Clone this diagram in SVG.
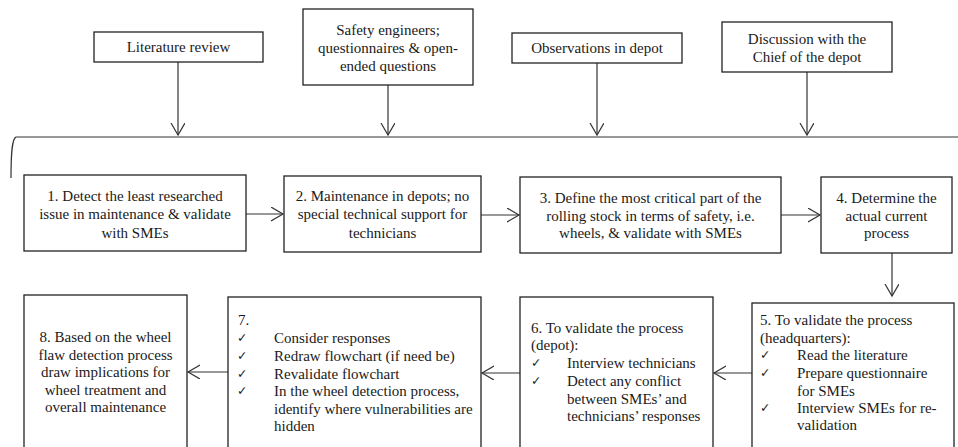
<svg xmlns="http://www.w3.org/2000/svg" width="958" height="447" viewBox="0 0 958 447">
<defs>
<marker id="arr" markerUnits="userSpaceOnUse" markerWidth="16" markerHeight="16" refX="12" refY="7" orient="auto">
<path d="M0,0 L12,7 L0,14" fill="none" stroke="#333" stroke-width="1.2"/>
</marker>
<style>
rect{fill:#fff;stroke:#222;stroke-width:1.3}
.c line,.c path{stroke:#333;stroke-width:1.2;fill:none}
.c line{marker-end:url(#arr)}
text{font-family:"Liberation Serif","Times New Roman",serif;font-size:15px;fill:#1a1a1a}
.m{text-anchor:middle}
.ck{font-family:"DejaVu Sans",sans-serif;font-size:12.5px}
</style>
</defs>
<rect x="0" y="0" width="958" height="447" style="fill:#fff;stroke:none"/>

<g class="c" id="connectors">
<path d="M11,178 C11,152 12,139 16,137 L958,137"/>
<line x1="178" y1="62" x2="178" y2="135"/>
<line x1="388" y1="85" x2="388" y2="135"/>
<line x1="597" y1="63" x2="597" y2="135"/>
<line x1="807" y1="72" x2="807" y2="135"/>
<line x1="246" y1="214" x2="283" y2="214"/>
<line x1="481" y1="215" x2="519" y2="215"/>
<line x1="781" y1="215" x2="820" y2="215"/>
<line x1="892" y1="253" x2="892" y2="296"/>
<line x1="752" y1="373" x2="714" y2="373"/>
<line x1="520" y1="373" x2="482" y2="373"/>
<line x1="228" y1="372" x2="188" y2="372"/>
</g>

<g id="lit">
<rect x="94" y="32" width="169" height="30"/>
<text class="m" x="178.5" y="52">Literature review</text>
</g>
<g id="safety">
<rect x="303" y="9" width="170" height="76"/>
<text class="m" x="388" y="35">Safety engineers;</text>
<text class="m" x="388" y="53">questionnaires &amp; open-</text>
<text class="m" x="388" y="70.5">ended questions</text>
</g>
<g id="obs">
<rect x="512" y="33" width="170" height="30"/>
<text class="m" x="597" y="52.5">Observations in depot</text>
</g>
<g id="disc">
<rect x="722" y="22" width="170" height="50"/>
<text class="m" x="807" y="44">Discussion with the</text>
<text class="m" x="807" y="62">Chief  of the depot</text>
</g>

<g id="n1">
<rect x="24" y="175" width="222" height="76"/>
<text class="m" x="135" y="200.5">1. Detect the least researched</text>
<text class="m" x="135" y="219">issue in maintenance &amp; validate</text>
<text class="m" x="135" y="237.5">with SMEs</text>
</g>
<g id="n2">
<rect x="284" y="176" width="197" height="76"/>
<text class="m" x="382.5" y="200.5">2. Maintenance in depots; no</text>
<text class="m" x="382.5" y="219">special technical support for</text>
<text class="m" x="382.5" y="237.5">technicians</text>
</g>
<g id="n3">
<rect x="520" y="177" width="261" height="76"/>
<text class="m" x="650.5" y="202.5">3. Define the most critical part of the</text>
<text class="m" x="650.5" y="220.5">rolling  stock in terms of safety, i.e.</text>
<text class="m" x="650.5" y="238">wheels, &amp; validate with SMEs</text>
</g>
<g id="n4">
<rect x="821" y="177" width="131" height="76"/>
<text class="m" x="886.5" y="202.5">4. Determine the</text>
<text class="m" x="886.5" y="220.5">actual current</text>
<text class="m" x="886.5" y="238">process</text>
</g>

<g id="n5">
<rect x="752" y="303" width="202" height="160"/>
<text x="760" y="325">5. To validate the process</text>
<text x="760" y="343">(headquarters):</text>
<text class="ck" x="760" y="359">✓</text>
<text x="797" y="360">Read the literature</text>
<text class="ck" x="760" y="376.5">✓</text>
<text x="797" y="377.5">Prepare questionnaire</text>
<text x="797" y="395.5">for SMEs</text>
<text class="ck" x="760" y="412">✓</text>
<text x="797" y="413">Interview SMEs for re-</text>
<text x="797" y="430">validation</text>
</g>
<g id="n6">
<rect x="520" y="297" width="193" height="160"/>
<text x="531" y="333">6. To validate the process</text>
<text x="531" y="350">(depot):</text>
<text class="ck" x="531" y="367">✓</text>
<text x="567" y="368">Interview technicians</text>
<text class="ck" x="531" y="385">✓</text>
<text x="567" y="386">Detect any conflict</text>
<text x="567" y="404">between SMEs’ and</text>
<text x="567" y="421">technicians’ responses</text>
</g>
<g id="n7">
<rect x="228" y="297" width="253" height="160"/>
<text x="238" y="325">7.</text>
<text class="ck" x="237" y="342">✓</text>
<text x="274" y="343">Consider responses</text>
<text class="ck" x="237" y="360">✓</text>
<text x="274" y="361">Redraw flowchart (if need be)</text>
<text class="ck" x="237" y="378">✓</text>
<text x="274" y="379">Revalidate flowchart</text>
<text class="ck" x="237" y="395">✓</text>
<text x="274" y="396">In the wheel detection process,</text>
<text x="274" y="414">identify  where vulnerabilities  are</text>
<text x="274" y="431">hidden</text>
</g>
<g id="n8">
<rect x="24" y="295" width="163" height="160"/>
<text class="m" x="105.5" y="342">8. Based on the wheel</text>
<text class="m" x="105.5" y="359.5">flaw detection process</text>
<text class="m" x="105.5" y="377">draw implications  for</text>
<text class="m" x="105.5" y="394.5">wheel treatment and</text>
<text class="m" x="105.5" y="412">overall maintenance</text>
</g>
</svg>
